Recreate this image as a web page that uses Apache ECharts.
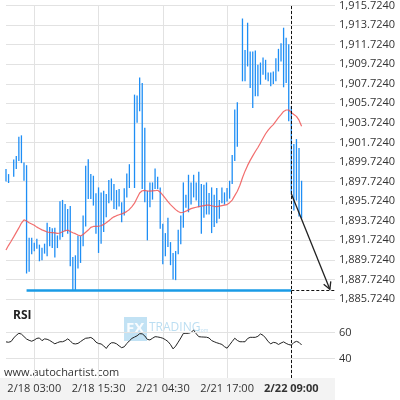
<!DOCTYPE html>
<html>
<head>
<meta charset="utf-8">
<script src="https://cdn.jsdelivr.net/npm/echarts@6/dist/echarts.min.js"></script>
<style>
html, body { margin: 0; padding: 0; background: #fff; }
#chart { width: 400px; height: 400px; }
</style>
</head>
<body>
<div id="chart"></div>
<script>
// bar ranges (high / low), one slot per bar
const highs = [
  1899.00, 1898.49, null, 1899.97, 1900.35, 1902.31, 1902.45, 1899.67, 1899.40, 1891.99,
  1891.99, 1891.48, 1891.89, 1891.28, 1890.97, 1891.38, 1893.51, 1893.07, 1892.96, 1893.01,
  1892.22, 1895.71, 1895.85, 1895.44, 1894.93, 1895.24, 1890.02, 1890.19, 1892.22, 1892.15,
  1894.25, 1899.33, 1900.01, 1898.49, 1898.32, 1896.52, 1897.13, 1896.62, 1896.79, 1896.46,
  1897.88, 1898.04, 1897.47, 1896.86, 1896.97, 1895.61, 1897.03, 1898.55, 1899.50, null,
  1906.61, 1906.51, 1908.37, 1907.79, 1903.22, 1896.79, 1897.64, 1897.64, 1899.06, 1898.22,
  1897.13, 1893.41, 1892.46, 1894.02, 1891.54, 1890.43, 1890.63, 1892.80, 1894.25, 1897.64,
  1896.39, 1898.42, 1897.64, 1898.42, 1897.64, 1898.72, 1897.47, 1897.40, 1897.64, 1896.56,
  1897.13, 1896.39, 1897.07, 1895.85, 1897.13, 1896.62, 1897.07, 1897.81, 1900.45, 1905.09,
  1905.83, null, 1914.39, 1911.18, 1913.96, 1911.01, 1911.01, 1911.11, 1909.66, 1909.89,
  1910.40, 1910.17, 1908.88, 1908.88, 1908.98, 1910.33, 1911.29, 1911.85, 1913.45, 1912.43,
  1911.75, 1905.43, 1901.57, 1902.07, 1901.16, 1897.81
];
const lows = [
  1897.74, 1897.58, null, 1898.22, 1899.00, 1899.84, 1899.61, 1897.81, 1888.33, 1888.50,
  1890.29, 1890.60, 1890.87, 1889.58, 1889.68, 1890.36, 1890.09, 1891.11, 1890.93, 1889.96,
  1890.93, 1891.79, 1892.05, 1892.66, 1892.40, 1889.07, 1886.64, 1886.64, 1888.84, 1889.41,
  1891.11, 1893.14, 1895.95, 1895.95, 1895.27, 1892.40, 1890.43, 1891.38, 1892.56, 1894.08,
  1895.50, 1895.78, 1894.93, 1894.86, 1895.17, 1893.57, 1894.25, 1896.11, 1897.07, null,
  1897.07, 1903.73, 1904.92, 1896.97, 1895.61, 1891.72, 1895.10, 1895.88, 1896.97, 1896.97,
  1892.90, 1889.28, 1890.09, 1891.04, 1889.18, 1887.72, 1887.65, 1890.29, 1891.31, 1893.01,
  1895.04, 1894.59, 1895.37, 1896.11, 1895.78, 1895.10, 1892.40, 1894.02, 1894.36, 1894.36,
  1892.46, 1893.07, 1893.47, 1893.92, 1895.50, 1895.37, 1895.68, 1895.98, 1897.47, 1899.84,
  1901.29, null, 1907.97, 1907.97, 1909.49, 1907.28, 1905.25, 1906.44, 1906.44, 1907.63,
  1908.65, 1908.14, 1907.97, 1907.46, 1907.69, 1907.97, 1908.98, 1910.00, 1907.36, 1907.79,
  1903.90, 1896.46, 1894.76, 1895.78, 1894.15, 1893.95
];
// moving average (red)
const maValues = [
  1890.74, 1891.21, 1891.63, 1892.07, 1892.53, 1892.99, 1893.49, 1893.82, 1893.70, 1893.52,
  1893.39, 1893.26, 1893.07, 1892.93, 1892.79, 1892.69, 1892.57, 1892.53, 1892.51, 1892.48,
  1892.43, 1892.47, 1892.59, 1892.70, 1892.77, 1892.63, 1892.50, 1892.40, 1892.26, 1892.17,
  1892.32, 1892.55, 1892.77, 1893.04, 1893.14, 1893.14, 1893.16, 1893.21, 1893.35, 1893.52,
  1893.72, 1893.94, 1894.12, 1894.24, 1894.33, 1894.42, 1894.52, 1894.68, 1894.88, 1895.17,
  1895.52, 1896.05, 1896.56, 1896.79, 1896.82, 1896.76, 1896.75, 1896.77, 1896.79, 1896.84,
  1896.64, 1896.34, 1896.00, 1895.68, 1895.37, 1895.12, 1894.86, 1894.66, 1894.54, 1894.59,
  1894.70, 1894.83, 1894.96, 1895.03, 1895.10, 1895.16, 1895.21, 1895.26, 1895.31, 1895.32,
  1895.25, 1895.20, 1895.17, 1895.22, 1895.27, 1895.32, 1895.37, 1895.57, 1895.83, 1896.29,
  1896.74, 1897.35, 1898.11, 1898.79, 1899.38, 1899.89, 1900.35, 1900.80, 1901.21, 1901.67,
  1902.15, 1902.61, 1902.99, 1903.29, 1903.55, 1903.90, 1904.26, 1904.56, 1904.89, 1905.04,
  1905.04, 1904.79, 1904.59, 1904.39, 1904.00, 1903.39
];
// RSI panel
const rsiValues = [
  52.9, 52.6, 53.2, 55.9, 58.0, 59.5, 58.9, 57.0, 55.1, 54.1,
  53.4, 54.3, 55.6, 55.9, 53.8, 55.2, 54.9, 54.0, 52.7, 51.4,
  52.3, 53.0, 53.0, 53.8, 55.2, 53.7, 51.6, 51.3, 51.7, 53.1,
  54.5, 55.7, 55.9, 56.3, 55.1, 52.7, 51.6, 51.3, 49.8, 47.8,
  50.6, 52.2, 52.2, 51.4, 49.8, 48.4, 49.1, 51.6, 53.7, 55.6,
  56.6, 57.6, 59.2, 59.1, 57.5, 54.8, 54.4, 55.7, 56.9, 56.7,
  56.3, 55.7, 54.6, 53.2, 50.8, 47.5, 49.6, 52.7, 55.9, 59.4,
  59.5, 59.5, 60.2, 62.0, 59.2, 56.9, 56.7, 56.6, 56.5, 55.9,
  53.9, 53.0, 52.2, 51.6, 50.9, 49.2, 48.0, 50.6, 53.2, 55.7,
  54.0, 53.0, 53.0, 53.0, 55.5, 56.4, 56.4, 56.4, 57.2, 59.0,
  58.0, 55.9, 53.1, 51.4, 52.5, 52.2, 50.9, 52.0, 52.9, 51.7,
  50.8, 50.4, 52.4, 53.3, 52.5, 50.5
];
const tickIndex = [11, 36, 61, 86, 111];
const tickLabels = ['2/18 03:00', '2/18 15:30', '2/21 04:30', '2/21 17:00', '2/22 09:00'];
const rsiLevels = [40, 60];
const slotCount = 129;
const priceMin = 1885.724;
const priceMax = 1915.724;
const priceStep = 2;
const supportLevel = 1886.64;
const supportStart = 8;
const signalIndex = 111;
const arrowFrom = [111, 1896.47];
const arrowTo = [126, 1886.72];

const slots = Array.from({ length: slotCount }, (_, i) => i);
const barData = [];
highs.forEach((h, i) => {
    if (h != null) barData.push([i, lows[i], h]);
});

const font = 'Open Sans';
const gridLine = '#e2e2e2';

function fmtPrice(v) {
    // snap to the tick grid that starts at priceMin
    const k = Math.round((v - priceMin) / priceStep);
    const parts = (priceMin + k * priceStep).toFixed(4).split('.');
    return parts[0].replace(/\B(?=(\d{3})+(?!\d))/g, ',') + '.' + parts[1];
}

const myChart = echarts.init(document.getElementById('chart'));

const option = {
    animation: false,
    backgroundColor: '#fff',
    grid: [
        { left: 6, right: 65, top: 4, height: 295 },
        { left: 6, right: 65, top: 299, height: 79 }
    ],
    xAxis: [
        {
            gridIndex: 0,
            type: 'category',
            data: slots,
            boundaryGap: false,
            axisLine: { show: false },
            axisTick: { show: false },
            axisLabel: { show: false },
            splitLine: {
                show: true,
                interval: (idx) => tickIndex.includes(idx),
                lineStyle: { color: gridLine }
            }
        },
        {
            gridIndex: 1,
            type: 'category',
            data: slots,
            boundaryGap: false,
            axisLine: { show: false },
            axisTick: { show: false },
            axisLabel: {
                interval: (idx) => tickIndex.includes(idx),
                margin: 5,
                color: '#333',
                fontSize: 11,
                fontFamily: font,
                formatter: (val, idx) => {
                    const k = tickIndex.indexOf(Number(val));
                    if (k < 0) return '';
                    return k === tickIndex.length - 1 ? '{b|' + tickLabels[k] + '}' : tickLabels[k];
                },
                rich: {
                    b: { fontWeight: 'bold', fontSize: 11, color: '#333', fontFamily: font }
                }
            },
            splitLine: {
                show: true,
                interval: (idx) => tickIndex.includes(idx),
                lineStyle: { color: gridLine }
            }
        }
    ],
    yAxis: [
        {
            gridIndex: 0,
            type: 'value',
            position: 'right',
            min: priceMin,
            max: priceMax,
            interval: priceStep,
            axisLine: { show: false },
            axisTick: { show: false },
            axisLabel: {
                margin: 4,
                color: '#333',
                fontSize: 11,
                fontFamily: font,
                formatter: fmtPrice
            },
            splitLine: { show: true, lineStyle: { color: gridLine } }
        },
        {
            gridIndex: 1,
            type: 'value',
            position: 'right',
            min: 25,
            max: 86,
            interval: 5,
            axisLine: { show: false },
            axisTick: { show: false },
            axisLabel: {
                margin: 4,
                color: '#333',
                fontSize: 11,
                fontFamily: font,
                formatter: (v) => rsiLevels.some(l => Math.abs(v - l) < 0.01) ? String(Math.round(v)) : ''
            },
            splitLine: { show: false }
        }
    ],
    graphic: {
        elements: [
            {
                type: 'rect', z: -1, silent: true,
                shape: { x: 0, y: 378, width: 335, height: 22 },
                style: { fill: '#f3f3f3' }
            },
            {
                type: 'rect', silent: true,
                shape: { x: 124, y: 317, width: 23, height: 24 },
                style: { fill: 'rgba(120,190,230,0.45)' }
            },
            {
                type: 'text', silent: true, left: 126, top: 321,
                style: { text: 'FX', fill: 'rgba(255,255,255,0.9)', font: 'bold 15px "Open Sans"' }
            },
            {
                type: 'text', silent: true, left: 149, top: 322,
                style: { text: 'TRADING', fill: 'rgba(120,190,230,0.5)', font: '12px "Open Sans"' }
            },
            {
                type: 'text', silent: true, left: 197, top: 328,
                style: { text: '.com', fill: 'rgba(120,190,230,0.5)', font: '5px "Open Sans"' }
            },
            {
                type: 'text', silent: true, left: 13, top: 310,
                style: { text: 'RSI', fill: '#222', font: 'bold 12px "Open Sans"' }
            },
            {
                type: 'text', silent: true, left: 4, top: 367,
                style: { text: 'www.autochartist.com', fill: '#333', font: '11px "Open Sans"' }
            }
        ]
    },
    series: [
        {
            name: 'bars',
            type: 'custom',
            xAxisIndex: 0,
            yAxisIndex: 0,
            encode: { x: 0, y: [1, 2] },
            data: barData,
            renderItem: (params, api) => {
                const top = api.coord([api.value(0), api.value(2)]);
                const bottom = api.coord([api.value(0), api.value(1)]);
                return {
                    type: 'line',
                    shape: { x1: top[0], y1: top[1], x2: bottom[0], y2: bottom[1] },
                    style: { stroke: '#1e8ef5', lineWidth: 1.3 }
                };
            },
            markLine: {
                silent: true,
                symbol: 'none',
                label: { show: false },
                lineStyle: { color: '#1a9be6', width: 2.5, type: 'solid' },
                data: [[{ coord: [supportStart, supportLevel] }, { coord: [signalIndex, supportLevel] }]]
            }
        },
        {
            name: 'MA',
            type: 'line',
            xAxisIndex: 0,
            yAxisIndex: 0,
            data: maValues,
            showSymbol: false,
            symbol: 'none',
            lineStyle: { color: 'rgba(240,85,85,0.85)', width: 1.2 },
            z: 3,
            markLine: {
                silent: true,
                symbol: 'none',
                label: { show: false },
                lineStyle: { color: '#111', width: 1, type: [3, 2] },
                data: [
                    { xAxis: signalIndex },
                    [{ coord: [signalIndex, supportLevel] }, { coord: [slotCount - 1, supportLevel] }]
                ]
            }
        },
        {
            name: 'arrow',
            type: 'custom',
            silent: true,
            xAxisIndex: 0,
            yAxisIndex: 0,
            encode: { x: [0, 2], y: [1, 3] },
            data: [[arrowFrom[0], arrowFrom[1], arrowTo[0], arrowTo[1]]],
            z: 4,
            renderItem: (params, api) => {
                const a = api.coord([api.value(0), api.value(1)]);
                const b = api.coord([api.value(2), api.value(3)]);
                const ang = Math.atan2(b[1] - a[1], b[0] - a[0]);
                const len = 8, spread = 0.5;
                const h1 = [b[0] - len * Math.cos(ang - spread), b[1] - len * Math.sin(ang - spread)];
                const h2 = [b[0] - len * Math.cos(ang + spread), b[1] - len * Math.sin(ang + spread)];
                return {
                    type: 'group',
                    children: [
                        { type: 'line', shape: { x1: a[0], y1: a[1], x2: b[0], y2: b[1] }, style: { stroke: '#222', lineWidth: 1.3 } },
                        { type: 'polyline', shape: { points: [h1, b, h2] }, style: { stroke: '#222', lineWidth: 1.3, fill: null } }
                    ]
                };
            }
        },
        {
            name: 'RSI',
            type: 'line',
            xAxisIndex: 1,
            yAxisIndex: 1,
            data: rsiValues,
            showSymbol: false,
            symbol: 'none',
            lineStyle: { color: '#222', width: 1 },
            markLine: {
                silent: true,
                symbol: 'none',
                label: { show: false },
                data: [
                    { yAxis: rsiLevels[0], lineStyle: { color: gridLine, width: 1, type: 'solid' } },
                    { yAxis: rsiLevels[1], lineStyle: { color: gridLine, width: 1, type: 'solid' } },
                    { xAxis: signalIndex, lineStyle: { color: '#111', width: 1, type: [3, 2] } }
                ]
            }
        }
    ]
};

myChart.setOption(option);
</script>
</body>
</html>
